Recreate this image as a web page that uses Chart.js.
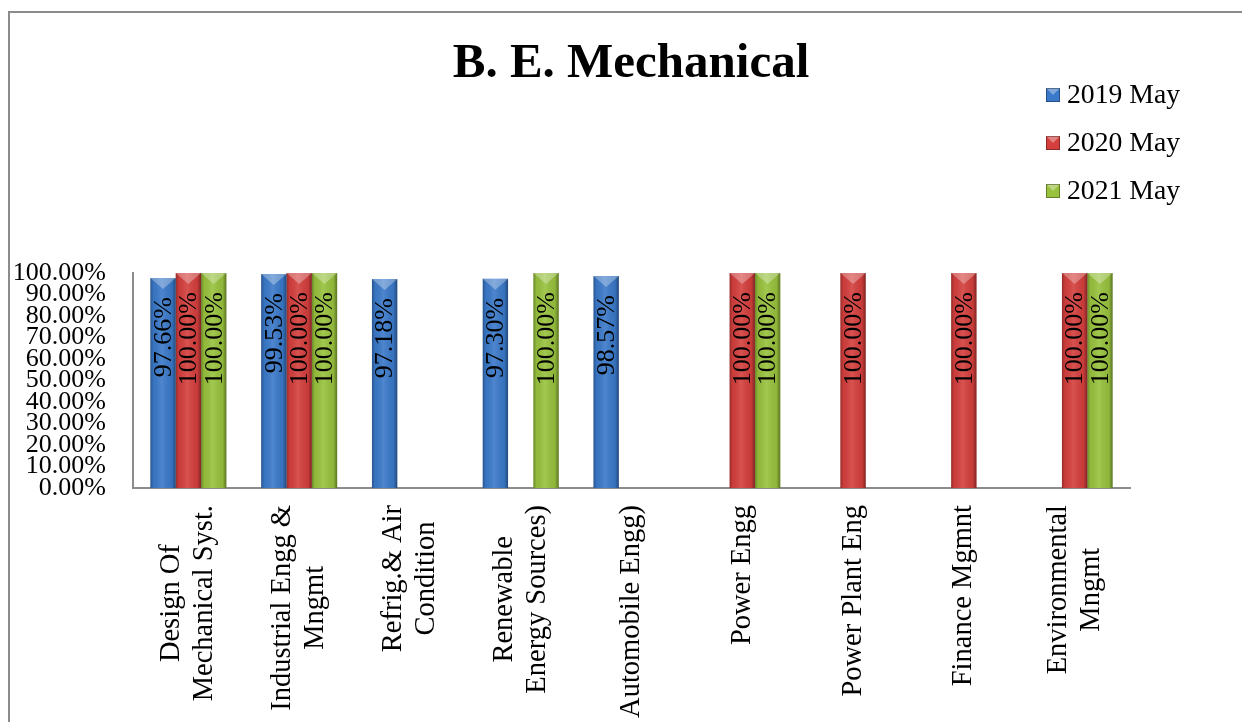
<!DOCTYPE html>
<html>
<head>
<meta charset="utf-8">
<script src="https://cdn.jsdelivr.net/npm/chart.js@4.4.0/dist/chart.umd.min.js"></script>
<style>
  html, body { margin: 0; padding: 0; background: #fff; }
  #wrap { position: relative; width: 1242px; height: 722px; overflow: hidden; }
  #frame { position: absolute; left: 8px; top: 11px; right: -10px; bottom: -10px;
           border-top: 2px solid #8c8c8c; border-left: 2px solid #8c8c8c; pointer-events: none; }
</style>
</head>
<body>
<div id="wrap">
  <canvas id="mechChart"></canvas>
  <div id="frame"></div>
</div>
<script>
// DATA
const subjects = [
  ['Design Of', 'Mechanical Syst.'],
  ['Industrial Engg &', 'Mngmt'],
  ['Refrig.& Air', 'Condition'],
  ['Renewable', 'Energy Sources)'],
  'Automobile Engg)',
  'Power Engg',
  'Power Plant Eng',
  'Finance Mgmnt',
  ['Environmental', 'Mngmt']
];
const may2019 = [97.66, 99.53, 97.18, 97.30, 98.57, null, null, null, null];
const may2020 = [100, 100, null, null, null, 100, 100, 100, 100];
const may2021 = [100, 100, null, 100, null, 100, null, null, 100];
const seriesNames = ['2019 May', '2020 May', '2021 May'];
const seriesColors = ['#3a79c9', '#d43f3d', '#98c23d'];
const chartTitle = 'B. E. Mechanical';

const SERIF = '"Liberation Serif", "Times New Roman", serif';
Chart.defaults.font.family = SERIF;
Chart.defaults.color = '#000';

// bevel look + labels drawn by hand, positions come from the chart's scales
const mechPlugin = {
  id: 'mechPlugin',
  afterDatasetsDraw(chart) {
    const ctx = chart.ctx;
    chart.data.datasets.forEach((ds, di) => {
      const meta = chart.getDatasetMeta(di);
      meta.data.forEach((bar, i) => {
        if (ds.data[i] == null) return;
        const p = bar.getProps(['x', 'y', 'base', 'width'], true);
        const left = p.x - p.width / 2, right = p.x + p.width / 2;
        ctx.save();
        const g = ctx.createLinearGradient(left, 0, right, 0);
        g.addColorStop(0, 'rgba(0,0,0,0.30)');
        g.addColorStop(0.12, 'rgba(0,0,0,0.05)');
        g.addColorStop(0.45, 'rgba(255,255,255,0.10)');
        g.addColorStop(0.85, 'rgba(0,0,0,0.06)');
        g.addColorStop(1, 'rgba(0,0,0,0.40)');
        ctx.fillStyle = g;
        ctx.fillRect(left, p.y, p.width, p.base - p.y);
        // top facet
        ctx.beginPath();
        ctx.moveTo(left, p.y);
        ctx.lineTo(right, p.y);
        ctx.lineTo(p.x, p.y + 11);
        ctx.closePath();
        ctx.fillStyle = 'rgba(255,255,255,0.30)';
        ctx.fill();
        // data label
        ctx.translate(p.x, p.y + 19);
        ctx.rotate(-Math.PI / 2);
        ctx.font = '26px ' + SERIF;
        ctx.fillStyle = '#000';
        ctx.textAlign = 'right';
        ctx.textBaseline = 'middle';
        ctx.fillText(ds.data[i].toFixed(2) + '%', 0, 1);
        ctx.restore();
      });
    });
  },
  afterDraw(chart) {
    const ctx = chart.ctx;
    const xs = chart.scales.x;
    ctx.save();
    ctx.fillStyle = '#000';
    // category labels, rotated, lines centred in their block
    ctx.font = '28.5px ' + SERIF;
    subjects.forEach((lbl, i) => {
      const lines = Array.isArray(lbl) ? lbl : [lbl];
      const maxW = Math.max(...lines.map(l => ctx.measureText(l).width));
      const cx0 = xs.getPixelForValue(i);
      const cy = chart.chartArea.bottom + 17 + maxW / 2;
      lines.forEach((line, j) => {
        ctx.save();
        ctx.translate(cx0 + (j - (lines.length - 1) / 2) * 33, cy);
        ctx.rotate(-Math.PI / 2);
        ctx.textAlign = 'center';
        ctx.textBaseline = 'middle';
        ctx.fillText(line, 0, 0);
        ctx.restore();
      });
    });
    // title
    ctx.font = 'bold 49px ' + SERIF;
    ctx.textAlign = 'center';
    ctx.textBaseline = 'alphabetic';
    ctx.fillText(chartTitle, 631, 77);
    // legend
    ctx.font = '27.7px ' + SERIF;
    ctx.textAlign = 'left';
    ctx.textBaseline = 'middle';
    seriesNames.forEach((name, i) => {
      const y = 95 + i * 48;
      const bx = 1046, by = y - 7, s = 14;
      ctx.fillStyle = seriesColors[i];
      ctx.fillRect(bx, by, s, s);
      ctx.beginPath();
      ctx.moveTo(bx, by); ctx.lineTo(bx + s, by); ctx.lineTo(bx + s / 2, by + s / 2); ctx.closePath();
      ctx.fillStyle = 'rgba(255,255,255,0.35)';
      ctx.fill();
      ctx.strokeStyle = 'rgba(0,0,0,0.35)';
      ctx.lineWidth = 1;
      ctx.strokeRect(bx + 0.5, by + 0.5, s - 1, s - 1);
      ctx.fillStyle = '#000';
      ctx.fillText(name, 1067, y + 1);
    });
    ctx.restore();
  }
};

new Chart(document.getElementById('mechChart'), {
  type: 'bar',
  data: {
    labels: subjects,
    datasets: [
      { label: seriesNames[0], data: may2019, backgroundColor: seriesColors[0] },
      { label: seriesNames[1], data: may2020, backgroundColor: seriesColors[1] },
      { label: seriesNames[2], data: may2021, backgroundColor: seriesColors[2] }
    ]
  },
  options: {
    responsive: true,
    maintainAspectRatio: false,
    animation: false,
    datasets: {
      bar: { barPercentage: 1, categoryPercentage: 0.686, borderWidth: 0 }
    },
    layout: { padding: { left: 0, right: 112, top: 273, bottom: 0 } },
    scales: {
      x: {
        grid: { display: false },
        border: { color: '#8c8c8c', width: 2 },
        ticks: { display: false },
        afterFit(scale) { scale.height = 234; }
      },
      y: {
        min: 0,
        max: 100,
        grid: { display: false, drawTicks: false },
        border: { color: '#8c8c8c', width: 2 },
        ticks: {
          stepSize: 10,
          autoSkip: false,
          padding: 27,
          font: { size: 26 },
          callback: v => v.toFixed(2) + '%'
        },
        afterFit(scale) { scale.width = 133; }
      }
    },
    plugins: {
      legend: { display: false },
      title: { display: false },
      tooltip: { enabled: false }
    }
  },
  plugins: [mechPlugin]
});
</script>
</body>
</html>
